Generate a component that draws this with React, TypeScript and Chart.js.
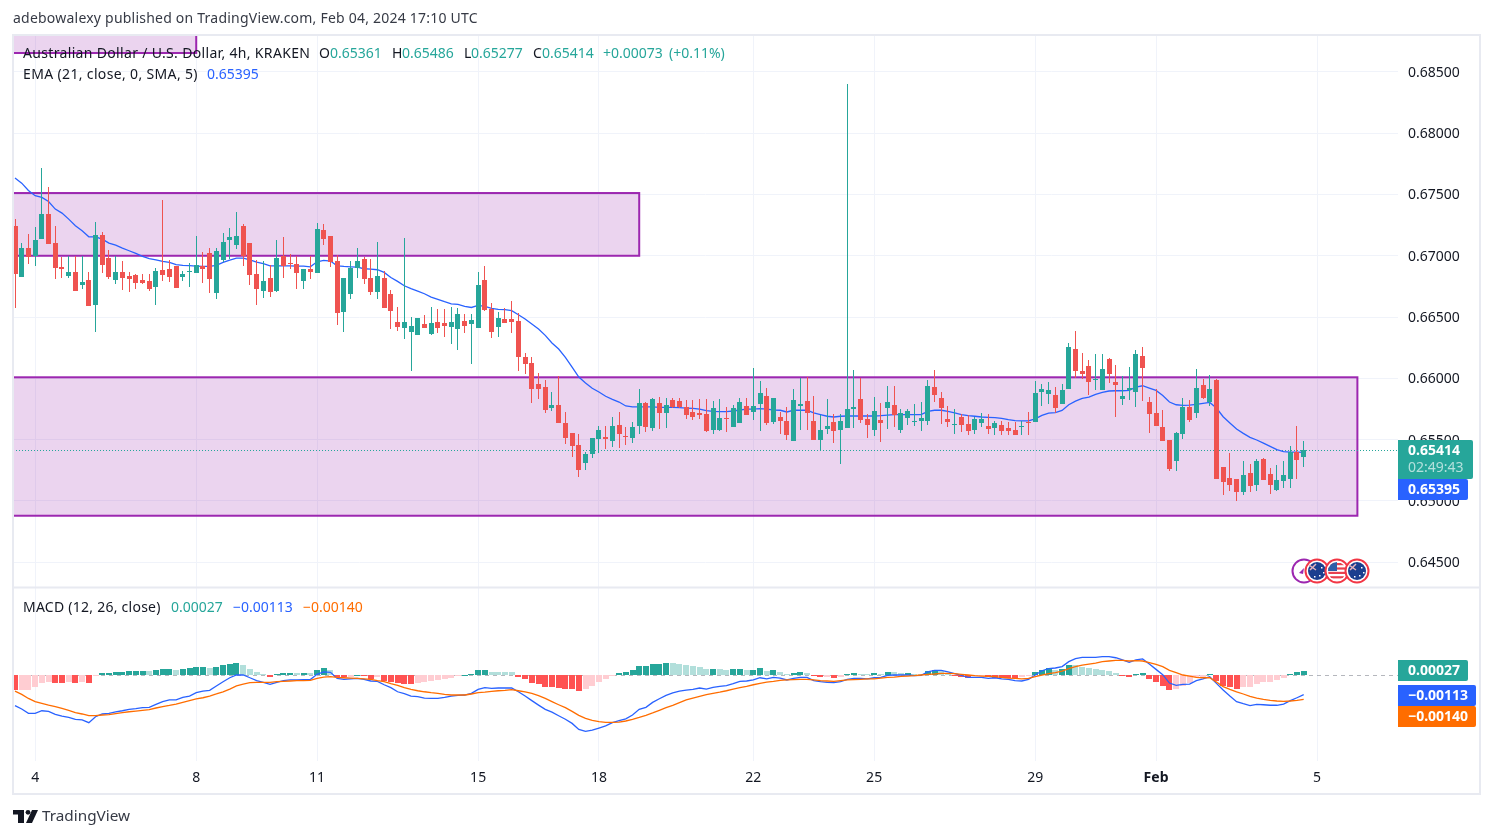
import { useEffect, useRef } from "react";
import { Chart, registerables } from "chart.js";

Chart.register(...registerables);

const POINT = 0.00001;

const opens = [
  67245,66829,67066,67000,67139,67343,67106,66911,66837,66870,
  66764,66805,66600,67172,66984,66805,66870,66837,66845,66805,
  66796,66747,66886,66894,66919,66829,66870,66861,66919,67025,
  66698,66967,67131,67090,67245,67106,66853,66714,66820,66714,
  67000,66943,66935,66796,66894,66861,67212,67163,66959,66543,
  66690,66902,66976,66820,66706,66820,66690,66462,66413,66380,
  66355,66445,66364,66462,66453,66421,66404,66470,66445,66413,
  66804,66568,66421,66486,66486,66470,66176,66127,65956,65932,
  65760,65785,65638,65556,65458,65311,65385,65507,65523,65491,
  65621,65532,65515,65613,65801,65597,65801,65719,65825,65817,
  65768,65727,65719,65711,65581,65581,65678,65605,65638,65776,
  65727,65793,65858,65646,65687,65654,65491,65777,65817,65654,
  65499,65589,65646,65581,65597,65752,65834,65671,65581,65662,
  65760,65785,65581,65679,65646,65654,65654,65932,65842,65671,
  65622,65687,65630,65581,65638,65613,65597,65622,65597,65581,
  65605,65646,65646,65890,65874,65866,65792,65915,66241,66062,
  66102,65988,65907,66160,65972,65833,65907,65890,66184,65809,
  65719,65605,65499,65327,65548,65768,65719,65947,65809,65988,
  65278,65188,65180,65074,65229,65131,65344,65221,65091,65164,
  65180,65401,65361,
];

const highs = [
  67302,67104,67180,67237,67719,67563,67245,66992,67000,67000,
  67000,66870,67278,67196,67049,67000,66959,66870,66853,66853,
  66853,66902,67457,66967,66919,66878,66943,67163,67033,67066,
  67066,67188,67229,67359,67261,67106,66967,66959,66927,67131,
  67155,67016,67000,66894,67000,67269,67261,67163,67008,66820,
  66959,67065,66992,66976,67114,66878,66723,66584,67147,66502,
  66494,66519,66584,66568,66568,66584,66576,66527,66527,66869,
  66918,66616,66543,66576,66633,66535,66209,66176,66046,65989,
  65891,66021,65727,65556,65548,65401,65515,65613,65613,65687,
  65727,65605,65646,65915,65809,65842,65850,65842,65842,65842,
  65825,65825,65834,65834,65817,65834,65768,65785,65842,65842,
  66086,65980,65923,65842,65728,65768,65915,66005,66013,65858,
  65703,65834,65711,65711,68402,66070,66005,65711,65850,65801,
  65940,65940,65752,65752,65793,65809,65989,66070,65891,65777,
  65752,65711,65703,65687,65719,65711,65654,65654,65646,65646,
  65654,65728,65981,65956,65972,65931,65956,66290,66388,66209,
  66151,66200,66200,66168,66111,66021,66094,66233,66258,65850,
  65915,65743,65499,65564,65841,65825,66078,65996,66029,65996,
  65278,65392,65180,65327,65303,65344,65352,65270,65295,65327,
  65450,65613,65486,
];

const lows = [
  66576,66829,66935,66919,67139,67098,66813,66821,66821,66715,
  66731,66592,66380,66861,66813,66772,66723,66706,66731,66772,
  66715,66600,66796,66788,66739,66796,66747,66861,66780,66698,
  66649,66951,66976,67057,66919,66764,66600,66657,66665,66706,
  66820,66894,66731,66731,66812,66861,67090,66910,66437,66380,
  66649,66820,66772,66682,66649,66576,66404,66388,66323,66062,
  66355,66413,66355,66372,66339,66282,66233,66372,66119,66413,
  66551,66331,66339,66453,66372,66062,66038,65801,65834,65719,
  65736,65638,65466,65360,65197,65254,65352,65393,65426,65442,
  65434,65458,65475,65548,65564,65572,65589,65597,65760,65760,
  65670,65662,65670,65564,65548,65572,65564,65605,65638,65703,
  65662,65572,65621,65630,65548,65499,65491,65581,65581,65499,
  65409,65548,65475,65303,65597,65597,65638,65515,65532,65483,
  65589,65605,65556,65622,65613,65573,65622,65809,65630,65605,
  65548,65564,65540,65548,65605,65548,65540,65540,65540,65540,
  65540,65540,65646,65776,65792,65719,65792,65915,66005,65996,
  65866,65907,65907,65964,65686,65784,65825,65768,65817,65556,
  65613,65490,65246,65246,65507,65645,65678,65833,65776,65180,
  65050,65082,65001,65050,65074,65082,65172,65058,65082,65107,
  65107,65180,65277,
];

const closes = [
  66854,67066,66992,67131,67343,67098,66902,66894,66870,66715,
  66788,66592,67172,66927,66829,66870,66821,66813,66780,66780,
  66731,66878,66845,66829,66739,66853,66878,66927,66894,66813,
  67041,67114,67155,67163,67000,66845,66731,66796,66706,66984,
  66918,66935,66861,66894,66869,67220,67139,66951,66535,66820,
  66902,66959,66812,66706,66837,66576,66551,66421,66462,66429,
  66494,66413,66453,66413,66429,66462,66527,66429,66478,66763,
  66559,66380,66494,66453,66462,66176,66119,65915,65915,65744,
  65785,65638,65515,65450,65254,65385,65515,65581,65507,65613,
  65548,65523,65605,65801,65605,65834,65719,65785,65768,65768,
  65703,65687,65703,65572,65760,65678,65670,65760,65809,65703,
  65776,65882,65638,65842,65654,65540,65826,65793,65719,65499,
  65581,65613,65573,65654,65752,65768,65662,65622,65736,65638,
  65809,65703,65719,65736,65654,65679,65940,65866,65760,65646,
  65630,65622,65573,65671,65671,65589,65638,65573,65573,65540,
  65613,65638,65883,65915,65907,65760,65907,66258,66062,66037,
  65972,65996,66078,66037,65947,65858,65923,66200,66086,65711,
  65613,65490,65262,65556,65768,65662,65923,65841,65915,65180,
  65156,65131,65074,65213,65123,65327,65172,65131,65172,65213,
  65401,65335,65414,
];

const ema = [
  67634,67593,67533,67490,67476,67443,67381,67348,67299,67245,
  67204,67155,67155,67136,67103,67087,67063,67041,67019,66995,
  66976,66967,66954,66946,66927,66921,66919,66916,66913,66913,
  66921,66946,66965,66981,66981,66967,66948,66935,66918,66918,
  66918,66918,66916,66916,66910,66951,66962,66957,66918,66913,
  66910,66908,66894,66891,66886,66864,66823,66791,66755,66731,
  66712,66690,66663,66644,66625,66608,66603,66587,66578,66595,
  66587,66570,66562,66560,66552,66519,66484,66443,66402,66350,
  66288,66239,66171,66092,66010,65961,65918,65888,65853,65828,
  65806,65774,65766,65766,65766,65766,65763,65763,65763,65760,
  65757,65755,65749,65736,65730,65727,65727,65733,65741,65749,
  65749,65752,65749,65741,65739,65725,65739,65739,65739,65717,
  65703,65690,65684,65690,65692,65692,65692,65692,65692,65695,
  65700,65703,65703,65703,65703,65703,65730,65739,65739,65730,
  65717,65703,65695,65690,65684,65681,65679,65673,65662,65654,
  65652,65652,65668,65697,65716,65719,65738,65784,65814,65836,
  65847,65869,65885,65896,65898,65898,65901,65928,65939,65920,
  65901,65860,65806,65784,65779,65781,65787,65795,65803,65757,
  65686,65635,65586,65550,65518,65496,65471,65444,65417,65401,
  65398,65398,65395,
];

const macdHist = [
  -87,-86,-85,-68,-45,-39,-45,-46,-39,-45,
  -39,-45,-4,14,15,20,21,25,26,27,
  25,31,37,38,31,37,43,49,50,43,
  49,60,66,72,60,37,20,8,-10,8,
  14,15,14,15,14,31,43,31,-10,-11,
  -10,4,-4,-21,-10,-33,-39,-45,-51,-52,
  -45,-39,-33,-27,-21,-16,-4,2,8,31,
  32,20,19,18,17,-10,-21,-45,-51,-68,
  -69,-74,-80,-81,-92,-80,-62,-39,-21,-4,
  14,20,31,55,56,66,67,72,71,66,
  60,55,49,37,38,37,31,37,38,31,
  32,43,25,31,20,8,14,20,14,-6,
  -10,-9,-16,-10,8,14,8,7,14,8,
  20,19,14,15,8,7,25,31,25,14,
  -4,-10,-16,-4,-3,-12,-13,-14,-15,-16,
  -8,-2,20,31,43,31,37,60,59,49,
  43,37,31,25,14,-4,-10,8,14,-21,
  -39,-62,-86,-80,-62,-45,-10,-8,8,-33,
  -62,-68,-80,-68,-67,-51,-39,-38,-27,-16,
  8,20,27,
];

const macdLine = [
  -177,-197,-222,-222,-207,-211,-228,-238,-246,-257,
  -261,-277,-242,-226,-222,-213,-207,-199,-195,-189,
  -187,-170,-154,-144,-144,-129,-121,-101,-92,-88,
  -62,-37,-14,2,2,-14,-31,-41,-53,-41,
  -31,-27,-27,-25,-25,6,20,18,-18,-23,
  -20,-18,-23,-33,-35,-55,-72,-96,-107,-121,
  -125,-133,-135,-135,-129,-121,-117,-115,-105,-82,
  -72,-76,-74,-74,-74,-96,-121,-148,-174,-199,
  -215,-236,-257,-281,-316,-328,-320,-308,-296,-277,
  -265,-254,-232,-199,-187,-158,-137,-117,-103,-92,
  -86,-82,-74,-80,-70,-64,-60,-49,-35,-33,
  -27,-14,-20,-12,-16,-27,-18,-12,-12,-31,
  -37,-41,-43,-37,-23,-18,-18,-20,-14,-12,
  0,2,2,2,-2,0,21,29,29,20,
  10,0,-12,-12,-12,-18,-14,-20,-23,-31,
  -33,-23,2,27,39,43,51,80,98,105,
  105,105,109,109,103,90,76,90,96,66,
  35,4,-45,-58,-53,-51,-31,-20,-8,-47,
  -86,-121,-154,-166,-177,-170,-172,-175,-175,-168,
  -148,-131,-113,
];

const signalLine = [
  -92,-111,-135,-154,-164,-174,-183,-193,-205,-218,
  -226,-236,-236,-232,-230,-224,-218,-213,-209,-205,
  -201,-191,-183,-176,-168,-158,-148,-138,-131,-121,
  -109,-96,-80,-62,-51,-43,-41,-41,-41,-37,
  -35,-33,-31,-31,-29,-18,-10,-8,-12,-14,
  -16,-18,-20,-23,-31,-37,-49,-58,-72,-82,
  -90,-96,-101,-105,-111,-115,-115,-115,-109,-101,
  -98,-94,-90,-88,-84,-90,-96,-105,-119,-135,
  -154,-172,-189,-211,-234,-252,-263,-271,-275,-275,
  -273,-267,-257,-246,-234,-220,-205,-189,-176,-160,
  -144,-133,-123,-113,-105,-98,-90,-80,-72,-64,
  -55,-47,-39,-35,-29,-27,-25,-23,-23,-27,
  -31,-33,-35,-31,-27,-25,-23,-21,-20,-16,
  -12,-10,-6,-4,-2,2,6,8,12,12,
  10,6,2,-2,-4,-6,-8,-12,-16,-18,
  -21,-18,-8,2,10,16,25,39,51,60,
  66,72,80,84,88,88,84,86,84,74,
  64,51,29,16,2,-4,-12,-14,-14,-39,
  -66,-82,-96,-109,-123,-133,-140,-146,-150,-152,
  -150,-146,-140,
];

// candle index of each date tick on the time axis
const tickIndexes = [3, 27, 45, 69, 87, 110, 128, 152, 170, 194];
const tickLabels = ["4", "8", "11", "15", "18", "22", "25", "29", "Feb", "5"];
const priceTicks = [0.645, 0.65, 0.655, 0.66, 0.665, 0.67, 0.675, 0.68, 0.685];

const zoneEnds = [27, 93, 200];
const zoneTops = [0.69, 0.67512, 0.66008];
const zoneBottoms = [0.68655, 0.67, 0.64878];

const lastPrice = 0.65414;
const emaValue = "0.65395";

const UP = "#26a69a";
const DOWN = "#ef5350";
const BLUE = "#2962ff";
const ORANGE = "#ff6d00";
const PURPLE = "#9c27b0";
const TEXT = "#131722";
const GRID = "#f0f3fa";
const FONT = '"Noto Sans", sans-serif';

const candleColors = closes.map((c, i) => (c >= opens[i] ? UP : DOWN));
const histColors = macdHist.map((v, i) => {
  const rising = i > 0 && v > macdHist[i - 1];
  if (v >= 0) return rising ? UP : "#b2dfdb";
  return rising ? "#ffcdd2" : "#ff5252";
});

function text(ctx: any, s: string, x: number, y: number, color: string, font = `14px ${FONT}`, spacing = 0) {
  ctx.font = font;
  ctx.letterSpacing = `${spacing}px`;
  ctx.fillStyle = color;
  ctx.textAlign = "left";
  ctx.textBaseline = "middle";
  ctx.fillText(s, x, y + 1);
  ctx.letterSpacing = "0px";
}

function tag(ctx: CanvasRenderingContext2D, x: number, y: number, w: number, h: number, color: string) {
  ctx.fillStyle = color;
  ctx.beginPath();
  ctx.roundRect(x, y, w, h, [0, 2, 2, 0]);
  ctx.fill();
}

function badge(ctx: CanvasRenderingContext2D, x: number, y: number, ring: string) {
  ctx.beginPath();
  ctx.arc(x, y, 11.5, 0, Math.PI * 2);
  ctx.fillStyle = "#fff";
  ctx.fill();
  ctx.lineWidth = 2;
  ctx.strokeStyle = ring;
  ctx.stroke();
}

function ausFlag(ctx: CanvasRenderingContext2D, x: number, y: number) {
  badge(ctx, x, y, "#f23645");
  ctx.beginPath();
  ctx.arc(x, y, 9, 0, Math.PI * 2);
  ctx.fillStyle = "#1c3f8f";
  ctx.fill();
  ctx.strokeStyle = "#e8b4bc";
  ctx.lineWidth = 1.5;
  ctx.beginPath();
  ctx.moveTo(x - 8, y - 6);
  ctx.lineTo(x - 1, y - 1);
  ctx.moveTo(x - 1, y - 7);
  ctx.lineTo(x - 7, y - 1);
  ctx.stroke();
  ctx.fillStyle = "#fff";
  [[4, -4], [6, 1], [2, 4], [-3, 5]].forEach(([dx, dy]) => ctx.fillRect(x + dx, y + dy, 1.5, 1.5));
}

function usFlag(ctx: CanvasRenderingContext2D, x: number, y: number) {
  badge(ctx, x, y, "#f23645");
  ctx.save();
  ctx.beginPath();
  ctx.arc(x, y, 9, 0, Math.PI * 2);
  ctx.clip();
  ctx.fillStyle = "#fff";
  ctx.fillRect(x - 9, y - 9, 18, 18);
  ctx.fillStyle = "#e8404f";
  for (let k = 0; k < 4; k++) ctx.fillRect(x - 9, y - 8 + k * 4.4, 18, 2.2);
  ctx.fillStyle = "#2f5ea8";
  ctx.fillRect(x - 9, y - 9, 9, 9);
  ctx.restore();
}

function logo(ctx: CanvasRenderingContext2D) {
  ctx.fillStyle = "#131722";
  ctx.fillRect(13, 810, 11, 4.5);
  ctx.fillRect(18, 810, 6, 13);
  ctx.beginPath();
  ctx.arc(28, 812.3, 2.4, 0, Math.PI * 2);
  ctx.fill();
  ctx.beginPath();
  ctx.moveTo(32, 810);
  ctx.lineTo(38, 810);
  ctx.lineTo(32, 823);
  ctx.lineTo(26, 823);
  ctx.closePath();
  ctx.fill();
}

const chartParts = {
  id: "chartParts",
  // snap bars to whole pixels so wicks stay one pixel wide
  afterDatasetsUpdate(chart: any) {
    chart.data.datasets.forEach((_: any, d: number) => {
      const meta = chart.getDatasetMeta(d);
      if (meta.type !== "bar") return;
      meta.data.forEach((el: any) => {
        el.x = el.width % 2 ? Math.floor(el.x) + 0.5 : Math.round(el.x);
        el.y = Math.round(el.y);
        el.base = Math.round(el.base);
        if (el.base === el.y && el.width > 1) el.base = el.y + 1;
      });
    });
  },
  beforeDatasetsDraw(chart: any) {
    const { ctx, chartArea: a, scales } = chart;
    ctx.save();
    ctx.beginPath();
    ctx.rect(a.left, a.top, a.right - a.left, a.bottom - a.top);
    ctx.clip();
    zoneEnds.forEach((end, i) => {
      const x0 = a.left - 4;
      const x1 = scales.x.getPixelForValue(end);
      const y0 = scales.y.getPixelForValue(zoneTops[i]);
      const y1 = scales.y.getPixelForValue(zoneBottoms[i]);
      ctx.fillStyle = "rgba(156,39,176,0.2)";
      ctx.fillRect(x0, y0, x1 - x0, y1 - y0);
      ctx.strokeStyle = PURPLE;
      ctx.lineWidth = 2;
      ctx.strokeRect(x0, y0, x1 - x0, y1 - y0);
    });
    const py = Math.round(scales.y.getPixelForValue(lastPrice)) + 0.5;
    ctx.setLineDash([1, 2]);
    ctx.strokeStyle = UP;
    ctx.lineWidth = 1;
    ctx.beginPath();
    ctx.moveTo(a.left, py);
    ctx.lineTo(a.right, py);
    ctx.stroke();
    const zy = Math.round(scales.macd.getPixelForValue(0)) + 0.5;
    ctx.setLineDash([4, 4]);
    ctx.strokeStyle = "rgba(120,123,134,0.55)";
    ctx.beginPath();
    ctx.moveTo(a.left, zy);
    ctx.lineTo(a.right, zy);
    ctx.stroke();
    ctx.restore();
  },
  afterDraw(chart: any) {
    const { ctx, scales } = chart;
    ctx.save();

    // frame and pane separator
    ctx.strokeStyle = "#e8eaf1";
    ctx.lineWidth = 2;
    ctx.strokeRect(13, 35, 1467, 759);
    ctx.beginPath();
    ctx.moveTo(13, 587.5);
    ctx.lineTo(1480, 587.5);
    ctx.stroke();

    const big = `14px ${FONT}`;
    text(ctx, "adebowalexy published on TradingView.com, Feb 04, 2024 17:10 UTC", 13, 18.5, "#363a45", big, 0.22);

    // legend rows
    text(ctx, "Australian Dollar / U.S. Dollar, 4h, KRAKEN", 23, 53, TEXT, big, 0.33);
    text(ctx, "O", 319, 53, TEXT);
    text(ctx, "0.65361", 330, 53, UP);
    text(ctx, "H", 392, 53, TEXT);
    text(ctx, "0.65486", 402, 53, UP);
    text(ctx, "L", 464, 53, TEXT);
    text(ctx, "0.65277", 471, 53, UP);
    text(ctx, "C", 533, 53, TEXT);
    text(ctx, "0.65414", 542, 53, UP);
    text(ctx, "+0.00073", 603, 53, UP);
    text(ctx, "(+0.11%)", 669, 53, UP);
    text(ctx, "EMA (21, close, 0, SMA, 5)", 23, 74, TEXT, big, 0.35);
    text(ctx, emaValue, 207, 74, BLUE);
    text(ctx, "MACD (12, 26, close)", 23, 607, TEXT, big, 0.25);
    text(ctx, "0.00027", 171, 607, UP);
    text(ctx, "\u22120.00113", 233, 607, BLUE);
    text(ctx, "\u22120.00140", 303, 607, ORANGE);

    // event badges above the separator
    badge(ctx, 1304, 571, PURPLE);
    ctx.fillStyle = PURPLE;
    ctx.beginPath();
    ctx.moveTo(1299, 573);
    ctx.lineTo(1304, 568);
    ctx.lineTo(1303, 574);
    ctx.closePath();
    ctx.fill();
    ausFlag(ctx, 1317, 571);
    usFlag(ctx, 1337, 571);
    ausFlag(ctx, 1357, 571);

    // value tags on the price scale
    const bold = `bold 14px ${FONT}`;
    const x = scales.y.left;
    tag(ctx, x, 440, 75, 39, UP);
    text(ctx, "0.65414", x + 10, 450, "#fff", bold);
    text(ctx, "02:49:43", x + 10, 467, "rgba(255,255,255,0.65)", big);
    tag(ctx, x, 479, 70, 21, BLUE);
    text(ctx, emaValue, x + 10, 489, "#fff", bold);
    tag(ctx, x, 660, 70, 21, UP);
    text(ctx, "0.00027", x + 10, 670, "#fff", bold);
    tag(ctx, x, 685, 78, 21, BLUE);
    text(ctx, "\u22120.00113", x + 10, 695, "#fff", bold);
    tag(ctx, x, 706, 78, 21, ORANGE);
    text(ctx, "\u22120.00140", x + 10, 716, "#fff", bold);

    logo(ctx);
    text(ctx, "TradingView", 42, 816, "#363a45", `15.3px ${FONT}`);
    ctx.restore();
  },
};

export default function App() {
  const canvasRef = useRef<HTMLCanvasElement | null>(null);

  useEffect(() => {
    if (!canvasRef.current) return;

    const bodies = opens.map((o, i) => ({ x: i, y: [o * POINT, closes[i] * POINT] }));
    const wicks = lows.map((l, i) => ({ x: i, y: [l * POINT, highs[i] * POINT] }));
    const toPoints = (list: number[]) => list.map((v, i) => ({ x: i, y: v * POINT }));

    const chart = new Chart(canvasRef.current, {
      type: "bar",
      data: {
        datasets: [
          { data: bodies, yAxisID: "y", backgroundColor: candleColors, barThickness: 5, grouped: false, inflateAmount: 0 },
          { data: wicks, yAxisID: "y", backgroundColor: candleColors, barThickness: 1, grouped: false, inflateAmount: 0 },
          { type: "line", data: toPoints(ema), yAxisID: "y", borderColor: BLUE, borderWidth: 1.3, pointRadius: 0 },
          { type: "line", data: toPoints(signalLine), yAxisID: "macd", borderColor: ORANGE, borderWidth: 1.3, pointRadius: 0 },
          { type: "line", data: toPoints(macdLine), yAxisID: "macd", borderColor: BLUE, borderWidth: 1.3, pointRadius: 0 },
          { data: toPoints(macdHist), yAxisID: "macd", backgroundColor: histColors, barThickness: 6, grouped: false, inflateAmount: 0 },
        ],
      } as any,
      plugins: [chartParts],
      options: {
        animation: false,
        responsive: false,
        devicePixelRatio: 1,
        layout: { padding: { left: 13, right: 13, top: 35, bottom: 44 } },
        plugins: { legend: { display: false }, tooltip: { enabled: false } },
        scales: {
          x: {
            type: "linear",
            min: -0.298,
            max: 206.05,
            offset: false,
            bounds: "data",
            border: { display: false },
            grid: { color: GRID, offset: false, drawTicks: false },
            afterBuildTicks: (scale: any) => {
              scale.ticks = tickIndexes.map((value) => ({ value }));
            },
            afterFit: (scale: any) => {
              scale.height = 33;
            },
            ticks: {
              autoSkip: false,
              maxRotation: 0,
              padding: 9,
              color: TEXT,
              font: (c: any) => ({
                family: FONT,
                size: 14,
                weight: c.tick && c.tick.value === 170 ? "bold" : "normal",
              }),
              callback: (v: any) => tickLabels[tickIndexes.indexOf(v)],
            },
          },
          y: {
            position: "right",
            min: 0.62876,
            max: 0.68802,
            bounds: "data",
            border: { display: false },
            grid: { color: GRID, drawTicks: false },
            afterBuildTicks: (scale: any) => {
              scale.ticks = priceTicks.map((value) => ({ value }));
            },
            afterFit: (scale: any) => {
              scale.width = 82;
            },
            ticks: {
              padding: 10,
              labelOffset: 1,
              color: TEXT,
              font: { family: FONT, size: 14 },
              callback: (v: any) => Number(v).toFixed(5),
            },
          },
          macd: {
            axis: "y",
            position: "right",
            display: false,
            min: -0.00501,
            max: 0.03746,
          },
        },
      } as any,
    });

    return () => chart.destroy();
  }, []);

  return (
    <canvas
      ref={canvasRef}
      width={1493}
      height={838}
      style={{ position: "absolute", left: 0, top: 0, width: 1493, height: 838, background: "#fff" }}
    />
  );
}
